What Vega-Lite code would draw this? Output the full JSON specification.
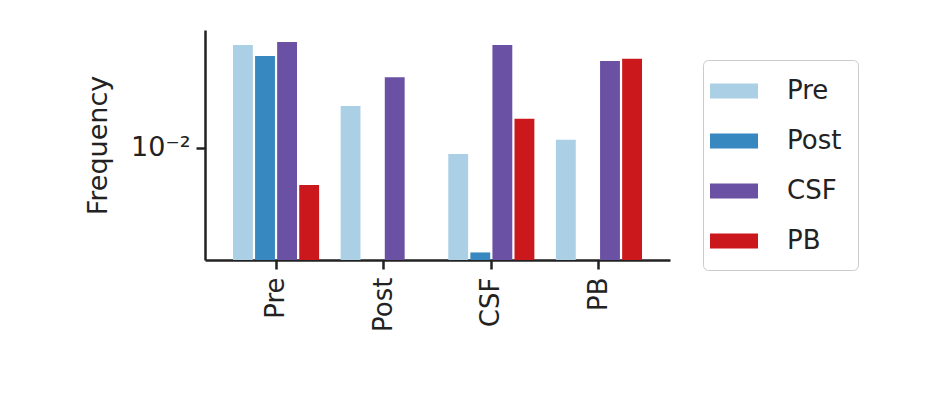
{
"$schema":"https://vega.github.io/schema/vega-lite/v6.json",
"autosize":"none",
"width":465,"height":230,
"padding":{"left":205,"top":30,"right":258,"bottom":143},
"config":{"view":{"stroke":null},"font":"DejaVu Sans"},
"data":{"values":[
{"g":"Pre","s":"Pre","v":0.0327},{"g":"Pre","s":"Post","v":0.0288},{"g":"Pre","s":"CSF","v":0.0339},{"g":"Pre","s":"PB","v":0.00653},
{"g":"Post","s":"Pre","v":0.0162},{"g":"Post","s":"CSF","v":0.0226},
{"g":"CSF","s":"Pre","v":0.00933},{"g":"CSF","s":"Post","v":0.0030},{"g":"CSF","s":"CSF","v":0.0327},{"g":"CSF","s":"PB","v":0.0140},
{"g":"PB","s":"Pre","v":0.0110},{"g":"PB","s":"CSF","v":0.0272},{"g":"PB","s":"PB","v":0.0279}
]},
"mark":{"type":"bar","clip":true},
"encoding":{
"x":{"field":"g","type":"nominal","sort":["Pre","Post","CSF","PB"],"scale":{"paddingInner":0.2,"paddingOuter":0.26},
"axis":{"title":null,"labelAngle":-90,"labelFontSize":26,"labelColor":"#222","domainColor":"#222","domainWidth":2.5,"tickColor":"#222","tickWidth":2.5,"tickSize":9,"labelPadding":8}},
"xOffset":{"field":"s","sort":["Pre","Post","CSF","PB"],"scale":{"paddingInner":0.1}},
"y":{"field":"v","type":"quantitative","scale":{"type":"log","domain":[0.00275,0.0389],"clamp":true,"nice":false},
"axis":{"title":"Frequency","titleFontSize":27,"titleFontWeight":"normal","titleColor":"#222","titlePadding":18,"values":[0.01],"labelExpr":"'10⁻²'","labelFontSize":27,"labelColor":"#222","domainColor":"#222","domainWidth":2.5,"tickColor":"#222","tickWidth":2.5,"tickSize":9,"labelPadding":6,"grid":false}},
"color":{"field":"s","type":"nominal","sort":["Pre","Post","CSF","PB"],
"scale":{"domain":["Pre","Post","CSF","PB"],"range":["#abd0e6","#3787c0","#6a51a3","#cb181d"]},
"legend":{"title":null,"orient":"none","legendX":498,"legendY":30,"labelFontSize":26,"labelColor":"#222","symbolType":"M-1.6,-0.5H1.6V0.5H-1.6Z","symbolSize":900,"symbolStrokeWidth":0,"symbolOpacity":1,"rowPadding":22,"labelOffset":38,"padding":16,"strokeColor":"#ccc","cornerRadius":5,"fillColor":"white"}}
}
}
